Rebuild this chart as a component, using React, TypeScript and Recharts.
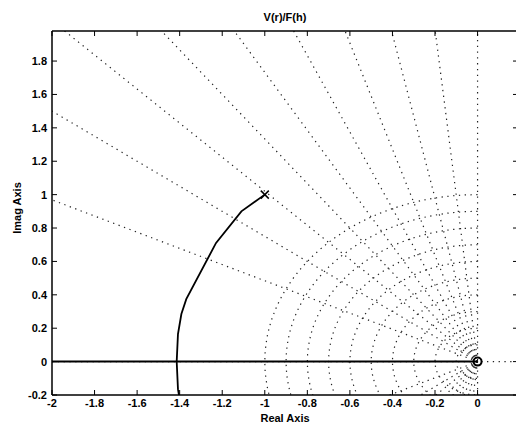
import React from 'react';
import { ComposedChart, Line, Scatter, XAxis, YAxis, ReferenceLine, Label } from 'recharts';

const xTicks = [-2, -1.8, -1.6, -1.4, -1.2, -1, -0.8, -0.6, -0.4, -0.2, 0];
const yTicks = [-0.2, 0, 0.2, 0.4, 0.6, 0.8, 1, 1.2, 1.4, 1.6, 1.8];

// sgrid parameters (constant damping rays, constant wn semicircles)
const dampingRatios = [0.1, 0.2, 0.3, 0.4, 0.5, 0.6, 0.7, 0.8, 0.9];
const naturalFreqs = [0.1, 0.2, 0.3, 0.4, 0.5, 0.6, 0.7, 0.8, 0.9, 1.0];

// locus branch leaving the complex pole
const branchX = [-1.0, -1.11, -1.229, -1.369, -1.392, -1.408, -1.414, -1.408, -1.392];
const branchY = [1.0, 0.9, 0.711, 0.374, 0.285, 0.165, 0.0, -0.165, -0.285];

// real-axis part of the locus
const realAxisX = [-2, 0];
const realAxisY = [0, 0];

const poles = [{ x: -1, y: 1 }];
const zeros = [{ x: 0, y: 0 }];

const branch = branchX.map((x, i) => ({ x, y: branchY[i] }));
const realAxis = realAxisX.map((x, i) => ({ x, y: realAxisY[i] }));

// grid construction, same as MATLAB's sgrid
const RAY_LEN = 3;
const rays = dampingRatios.flatMap((z) => {
  const w = Math.sqrt(1 - z * z);
  return [
    [{ x: 0, y: 0 }, { x: -RAY_LEN * z, y: RAY_LEN * w }],
    [{ x: 0, y: 0 }, { x: -RAY_LEN * z, y: -RAY_LEN * w }],
  ];
});
const ARC_STEPS = 60;
const arcs = naturalFreqs.map((wn) =>
  Array.from({ length: ARC_STEPS + 1 }, (_, i) => {
    const a = Math.PI / 2 + (Math.PI * i) / ARC_STEPS;
    return { x: wn * Math.cos(a), y: wn * Math.sin(a) };
  })
);

const FONT = '"Liberation Sans", Arial, sans-serif';
const tickStyle = { fill: '#000', fontSize: 11, fontWeight: 'bold', fontFamily: FONT };
const axisLine = { stroke: '#000', strokeWidth: 1.5 };
const dotted = { stroke: '#222', strokeWidth: 1.2, strokeDasharray: '1.3 4.5' };

const PoleMark = (props: any) => {
  const { cx, cy } = props;
  const s = 4;
  return (
    <path
      d={`M${cx - s},${cy - s}L${cx + s},${cy + s}M${cx - s},${cy + s}L${cx + s},${cy - s}`}
      stroke="#000"
      strokeWidth={1.5}
      fill="none"
    />
  );
};

const ZeroMark = (props: any) => {
  const { cx, cy } = props;
  return <circle cx={cx} cy={cy} r={4} fill="none" stroke="#000" strokeWidth={2} />;
};

const ImagLabel = (props: any) => {
  const { x, y, height } = props.viewBox;
  const cx = x + 10;
  const cy = y + height / 2 - 5;
  return (
    <text
      x={cx}
      y={cy}
      transform={`rotate(-90 ${cx} ${cy})`}
      textAnchor="middle"
      dominantBaseline="middle"
      style={tickStyle}
    >
      Imag Axis
    </text>
  );
};

const App: React.FC = () => {
  return (
    <ComposedChart width={516} height={418} margin={{ top: 22, right: 5, bottom: 0, left: 0 }}>
      <XAxis
        dataKey="x"
        type="number"
        domain={[-2, 0.19]}
        allowDataOverflow
        ticks={xTicks}
        interval={0}
        tickSize={-5}
        tickMargin={9}
        height={31}
        axisLine={axisLine}
        tickLine={{ stroke: '#000' }}
        tick={tickStyle}
      >
        <Label value="Real Axis" position="insideBottom" offset={4} style={tickStyle} />
      </XAxis>
      <XAxis
        xAxisId="top"
        orientation="top"
        dataKey="x"
        type="number"
        domain={[-2, 0.19]}
        allowDataOverflow
        ticks={xTicks}
        interval={0}
        tickSize={-5}
        tickFormatter={() => ''}
        height={1}
        axisLine={axisLine}
        tickLine={{ stroke: '#000' }}
      >
        <Label value="V(r)/F(h)" position="top" offset={9} style={tickStyle} />
      </XAxis>
      <YAxis
        dataKey="y"
        type="number"
        domain={[-0.2, 1.98]}
        allowDataOverflow
        ticks={yTicks}
        interval={0}
        tickSize={-5}
        tickMargin={10}
        width={44}
        axisLine={axisLine}
        tickLine={{ stroke: '#000' }}
        tick={tickStyle}
        label={{ content: ImagLabel }}
      />
      <YAxis
        yAxisId="right"
        orientation="right"
        dataKey="y"
        type="number"
        domain={[-0.2, 1.98]}
        allowDataOverflow
        ticks={yTicks}
        interval={0}
        tickSize={-5}
        tickFormatter={() => ''}
        width={1}
        axisLine={axisLine}
        tickLine={{ stroke: '#000' }}
      />

      <ReferenceLine y={0} {...dotted} />
      <ReferenceLine x={0} {...dotted} />

      {rays.map((r, i) => (
        <Line
          key={`ray-${i}`}
          data={r}
          dataKey="y"
          dot={false}
          activeDot={false}
          isAnimationActive={false}
          {...dotted}
        />
      ))}
      {arcs.map((a, i) => (
        <Line
          key={`arc-${i}`}
          data={a}
          dataKey="y"
          dot={false}
          activeDot={false}
          isAnimationActive={false}
          {...dotted}
        />
      ))}

      <Line
        data={realAxis}
        dataKey="y"
        stroke="#000"
        strokeWidth={2}
        dot={false}
        activeDot={false}
        isAnimationActive={false}
      />
      <Line
        data={branch}
        dataKey="y"
        stroke="#000"
        strokeWidth={1.8}
        dot={false}
        activeDot={false}
        isAnimationActive={false}
      />
      <Scatter data={poles} shape={PoleMark} isAnimationActive={false} />
      <Scatter data={zeros} shape={ZeroMark} isAnimationActive={false} />
    </ComposedChart>
  );
};

export default App;
